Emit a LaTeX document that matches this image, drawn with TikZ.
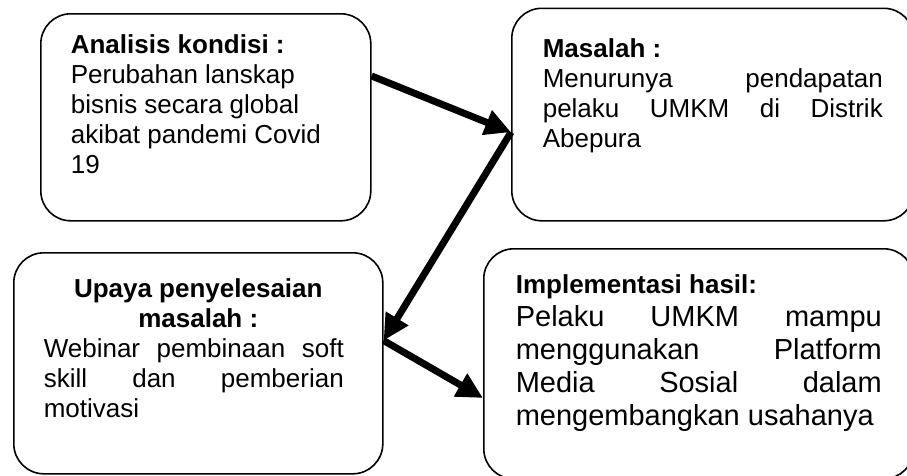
\documentclass[tikz,border=0pt]{standalone}
\usepackage{fontspec}
\setmainfont{Liberation Sans}
\usepackage{tikz}
\usetikzlibrary{arrows.meta}

\tikzset{
  caja/.style={draw, line width=1.6pt, rounded corners=30pt, anchor=north west,
    inner xsep=30pt, inner ysep=21pt, font=\fontsize{26}{30}\selectfont},
  flecha/.style={line width=7pt, -{Triangle[length=26pt,width=25pt]}}
}
\newcommand{\contenido}[3]{\begin{minipage}[t][#1][t]{#2}#3\end{minipage}}

\begin{document}
\begin{tikzpicture}[x=1pt,y=1pt]
        % Marco de la figura
        \useasboundingbox (0,0) rectangle (907,-475);
        \clip (0,0) rectangle (907,-475);
        % Cajas
        \node[caja] (analisis) at (40,-13) {\contenido{165pt}{270pt}{\raggedright
            {\bfseries Analisis kondisi :}\\ Perubahan lanskap\\ bisnis secara global\\
            akibat pandemi Covid\\ 19}};
        \node[caja, inner xsep=31pt, inner ysep=30pt] (masalah) at (511,-7.5) {\contenido{152.5pt}{340pt}{%
            {\bfseries Masalah :}\par
            Menurunya pendapatan\linebreak pelaku UMKM di Distrik\linebreak Abepura}};
        \node[caja, inner ysep=26pt] (upaya) at (13,-252) {\contenido{169pt}{309pt}{%
            {\centering\bfseries Upaya penyelesaian\\ masalah :\par}
            {\rightskip=9pt Webinar pembinaan soft\linebreak skill dan pemberian\linebreak motivasi\par}}};
        \node[caja, inner xsep=32pt, inner ysep=26pt] (implementasi) at (483,-248) {\contenido{178pt}{366pt}{%
            {\bfseries Implementasi hasil:}\par
            {\fontsize{29}{33}\selectfont Pelaku UMKM mampu\linebreak menggunakan Platform\linebreak
            Media Sosial dalam\linebreak mengembangkan usahanya\par}}};
        % Flechas
        \draw[flecha] (analisis.14) -- (masalah.185);
        \draw[flecha] (masalah.185) -- (upaya.7);
        \draw[flecha] (upaya.7) -- (implementasi.189);
    \end{tikzpicture}
\end{document}
